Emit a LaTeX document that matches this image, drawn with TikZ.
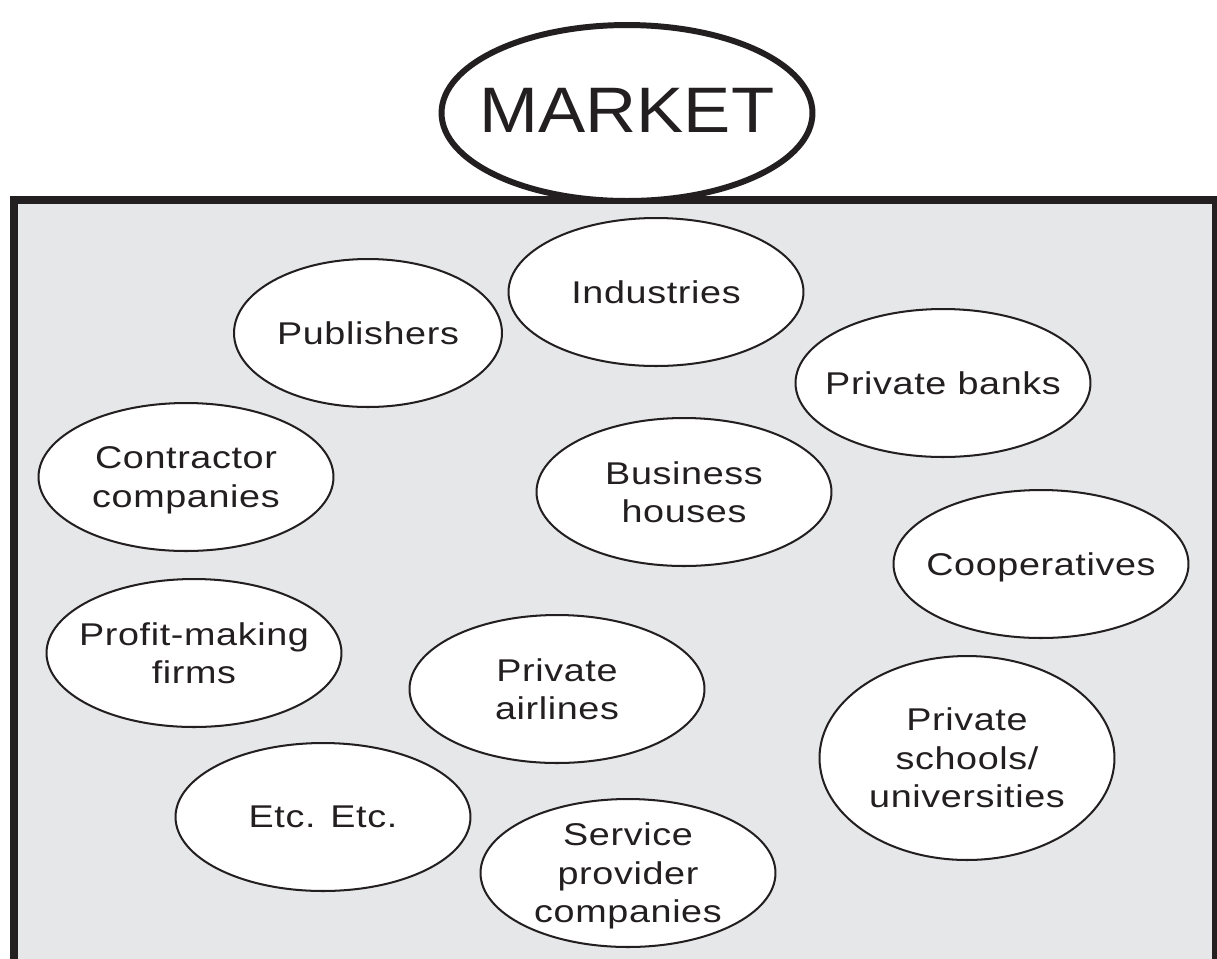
\documentclass[tikz,border=0pt]{standalone}
\usepackage{fontspec}
\setmainfont{Liberation Sans}[FakeStretch=1.2,LetterSpace=2]
\newfontfamily\titlefont{Liberation Sans}[FakeStretch=1.1]
\usepackage{tikz}
\usetikzlibrary{shapes.geometric}
\definecolor{inkblack}{HTML}{231F20}
\definecolor{panelgray}{HTML}{E6E7E8}

\begin{document}
\begin{tikzpicture}[x=0.02cm,y=-0.02cm,
    bubbletext/.style={align=center,text=inkblack,text depth=0pt,font=\fontsize{17.9pt}{21.9pt}\selectfont},
    bubble/.style={ellipse,draw=inkblack,line width=1.15pt,fill=white,inner sep=0pt,
      minimum width=5.9cm,minimum height=2.96cm,label={[bubbletext]center:#1}}]
    \useasboundingbox (0,0) rectangle (1217,958);
    \clip (0,0) rectangle (1217,958);
    % grey panel, runs off the bottom
    \draw[line width=4.3pt,draw=inkblack,fill=panelgray] (14,200) rectangle (1216,1000);
    \node[ellipse,draw=inkblack,line width=3.4pt,fill=white,inner sep=0pt,
      minimum width=7.42cm,minimum height=3.52cm,
      label={[text=inkblack,yshift=0.06cm,font=\titlefont\fontsize{36.6pt}{40pt}\selectfont]center:MARKET}] (market) at (627,113) {};
    % the players in the market
    \node[bubble={Publishers},minimum width=5.36cm] (publishers) at (368,333) {};
    \node[bubble={Industries}] (industries) at (656,292) {};
    \node[bubble={Private banks}] (banks) at (943,383) {};
    \node[bubble={Contractor\\companies}] (contractors) at (186,477) {};
    \node[bubble={Business\\houses}] (business) at (684,492) {};
    \node[bubble={Cooperatives}] (coops) at (1041,564) {};
    \node[bubble={Profit-making\\firms}] (profit) at (194,653) {};
    \node[bubble={Private\\airlines}] (airlines) at (557,689) {};
    \node[bubble={Private\\schools/\\universities},minimum height=4.08cm] (schools) at (967,758) {};
    \node[bubble={Etc. Etc.}] (etcetera) at (323,817) {};
    \node[bubble={Service\\provider\\companies}] (services) at (628,873) {};
\end{tikzpicture}
\end{document}
